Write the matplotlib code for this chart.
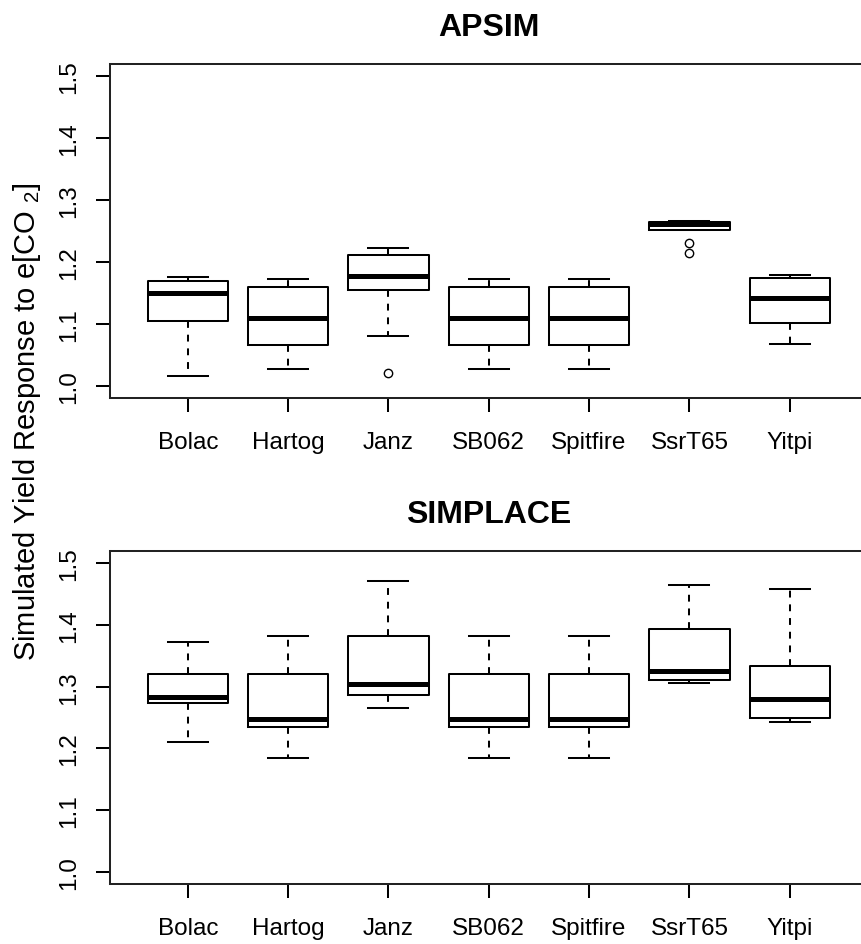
import matplotlib
matplotlib.use('Agg')
import matplotlib.pyplot as plt
import numpy as np

# ── Data ──────────────────────────────────────────────────────────────────
cultivars = ['Bolac', 'Hartog', 'Janz', 'SB062', 'Spitfire', 'SsrT65', 'Yitpi']

apsim_whislo = [1.015, 1.027, 1.080, 1.027, 1.027, 1.251, 1.067]
apsim_q1     = [1.104, 1.065, 1.155, 1.065, 1.065, 1.251, 1.102]
apsim_med    = [1.149, 1.110, 1.177, 1.110, 1.110, 1.262, 1.142]
apsim_q3     = [1.169, 1.159, 1.211, 1.159, 1.159, 1.264, 1.174]
apsim_whishi = [1.176, 1.172, 1.223, 1.172, 1.172, 1.266, 1.179]
apsim_fliers = [[], [], [1.020], [], [], [1.215, 1.230], []]

simplace_whislo = [1.210, 1.185, 1.265, 1.185, 1.185, 1.306, 1.243]
simplace_q1     = [1.273, 1.235, 1.286, 1.235, 1.235, 1.310, 1.250]
simplace_med    = [1.283, 1.248, 1.305, 1.248, 1.248, 1.325, 1.280]
simplace_q3     = [1.320, 1.320, 1.382, 1.320, 1.320, 1.393, 1.333]
simplace_whishi = [1.373, 1.382, 1.472, 1.382, 1.382, 1.465, 1.458]
simplace_fliers = [[], [], [], [], [], [], []]

yticks = [1.0, 1.1, 1.2, 1.3, 1.4, 1.5]

# ── Style ─────────────────────────────────────────────────────────────────
plt.rcParams['font.family'] = ['Liberation Sans', 'DejaVu Sans']
plt.rcParams['mathtext.fontset'] = 'custom'
plt.rcParams['mathtext.rm'] = 'Liberation Sans'
plt.rcParams['mathtext.it'] = 'Liberation Sans:italic'

LW = 1.45
FS = 17.5

W, H = 861, 945
fig = plt.figure(figsize=(W / 100, H / 100), dpi=100)

left = 109.5 / W
width = (868 - 109.5) / W
ax_top = fig.add_axes([left, (H - 399) / H, width, 334 / H])
ax_bot = fig.add_axes([left, (H - 885) / H, width, 333 / H])


def build_stats(lo, q1, med, q3, hi, fl):
    return [dict(whislo=a, q1=b, med=c, q3=d, whishi=e, fliers=f, label=n)
            for a, b, c, d, e, f, n in zip(lo, q1, med, q3, hi, fl, cultivars)]


def draw_panel(ax, stats, title):
    ax.bxp(stats, positions=np.arange(1, len(cultivars) + 1), widths=0.8,
           capwidths=0.4, showfliers=True,
           boxprops=dict(color='black', linewidth=LW),
           whiskerprops=dict(color='black', linewidth=LW,
                             linestyle=(0, (3.4, 3.4))),
           capprops=dict(color='black', linewidth=LW),
           medianprops=dict(color='black', linewidth=3.6, solid_capstyle='butt'),
           flierprops=dict(marker='o', markerfacecolor='none',
                           markeredgecolor='black', markersize=6,
                           markeredgewidth=1.0))
    ax.set_xlim(0.22, 7.78)
    ax.set_ylim(0.98, 1.52)
    ax.set_yticks(yticks)
    ax.set_yticklabels([f'{v:.1f}' for v in yticks], rotation=90, va='center')
    ax.set_xticks(np.arange(1, len(cultivars) + 1))
    ax.set_xticklabels(cultivars)
    ax.tick_params(axis='both', direction='out', length=10, width=LW,
                   labelsize=FS, color='black')
    ax.tick_params(axis='x', pad=14)
    ax.tick_params(axis='y', pad=11)
    for sp in ax.spines.values():
        sp.set_linewidth(LW)
        sp.set_color('#222222')
    ax.set_title(title, fontsize=23, fontweight='bold', pad=21)


draw_panel(ax_top, build_stats(apsim_whislo, apsim_q1, apsim_med, apsim_q3,
                               apsim_whishi, apsim_fliers), 'APSIM')
draw_panel(ax_bot, build_stats(simplace_whislo, simplace_q1, simplace_med,
                               simplace_q3, simplace_whishi, simplace_fliers),
           'SIMPLACE')

fig.text(27 / W, 1 - 422 / H, 'Simulated Yield Response to e[CO $_{2}$]',
         rotation=90, ha='center', va='center', fontsize=21)

fig.savefig('out.png', dpi=100, facecolor='white')
